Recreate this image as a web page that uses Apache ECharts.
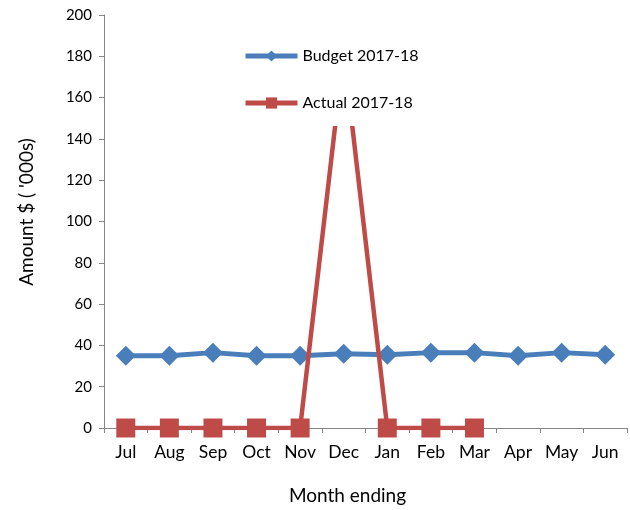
<!DOCTYPE html>
<html>
<head>
<meta charset="utf-8">
<script src="https://cdn.jsdelivr.net/npm/echarts@6/dist/echarts.min.js"></script>
<style>
  html, body { margin: 0; padding: 0; background: #fff; }
  #chart { width: 630px; height: 510px; }
</style>
</head>
<body>
<div id="chart"></div>
<script>
  var months = ['Jul', 'Aug', 'Sep', 'Oct', 'Nov', 'Dec', 'Jan', 'Feb', 'Mar', 'Apr', 'May', 'Jun'];
  var budget = [35, 35, 36.5, 35, 35, 36, 35.5, 36.5, 36.5, 35, 36.5, 35.5];
  var actual = [0, 0, 0, 0, 0, 182, 0, 0, 0, null, null, null];

  var chart = echarts.init(document.getElementById('chart'));
  var font = 'Lato, "Open Sans", sans-serif';

  chart.setOption({
    animation: false,
    textStyle: { fontFamily: font },
    grid: { left: 104, right: 3, top: 15, bottom: 80, containLabel: false },
    legend: {
      orient: 'vertical',
      left: 238,
      top: 30,
      padding: [18, 10, 15, 5],
      itemGap: 31,
      itemWidth: 52,
      itemHeight: 14,
      backgroundColor: '#fff',
      lineStyle: { width: 5 },
      textStyle: { fontFamily: font, fontSize: 16, color: '#000' },
      data: ['Budget 2017-18', 'Actual 2017-18']
    },
    xAxis: {
      type: 'category',
      data: months,
      boundaryGap: true,
      name: 'Month ending',
      nameLocation: 'middle',
      nameGap: 58,
      nameTextStyle: { fontSize: 19, color: '#000', padding: [0, 36, 0, 0] },
      axisLine: { lineStyle: { color: '#868686', width: 1 } },
      axisTick: { show: true, length: 5, inside: false, lineStyle: { color: '#868686' } },
      axisLabel: { fontSize: 17.5, color: '#000', margin: 15, interval: 0 },
      splitLine: { show: false }
    },
    yAxis: {
      type: 'value',
      min: 0,
      max: 200,
      interval: 20,
      name: "Amount $ ( '000s)",
      nameLocation: 'middle',
      nameGap: 68,
      nameTextStyle: { fontSize: 19, color: '#000', padding: [0, 0, 0, 19] },
      axisLine: { show: true, lineStyle: { color: '#868686', width: 1 } },
      axisTick: { show: true, length: 5, lineStyle: { color: '#868686' } },
      axisLabel: { fontSize: 15, color: '#000', margin: 12 },
      splitLine: { show: false }
    },
    series: [
      {
        name: 'Budget 2017-18',
        type: 'line',
        data: budget,
        symbol: 'diamond',
        symbolSize: 20,
        itemStyle: { color: '#4a7ebb' },
        lineStyle: { color: '#4a7ebb', width: 5 },
        z: 2
      },
      {
        name: 'Actual 2017-18',
        type: 'line',
        data: actual,
        symbol: 'rect',
        symbolSize: 19,
        itemStyle: { color: '#be4b48' },
        lineStyle: { color: '#be4b48', width: 4.5 },
        z: 3
      }
    ]
  });
</script>
</body>
</html>
